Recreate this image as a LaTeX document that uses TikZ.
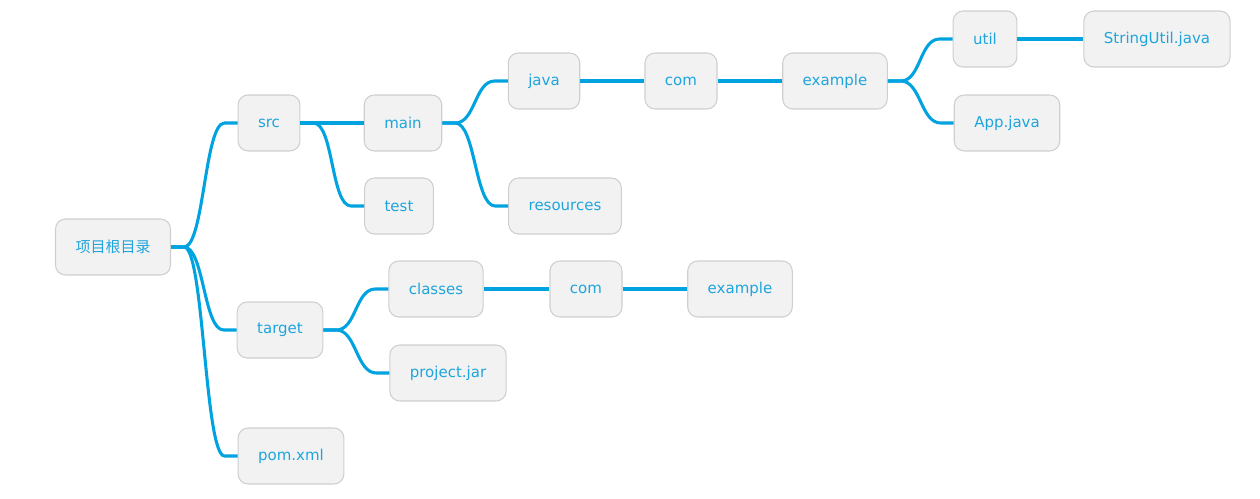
\documentclass[tikz,border=0pt]{standalone}
\usepackage{fontspec}
\setmainfont{DejaVu Sans}
\newfontfamily\cjk{Noto Sans CJK SC}
\usetikzlibrary{calc}

\definecolor{linkblue}{HTML}{00A3E0}
\definecolor{textblue}{HTML}{1FA5DC}
\definecolor{boxfill}{HTML}{F2F2F2}
\definecolor{boxline}{HTML}{CFCFCF}

\tikzset{
  folder/.style={draw=boxline,fill=boxfill,rounded corners=7.5pt,text=textblue,
    font=\fontsize{11.25}{13}\selectfont,minimum height=42pt,inner xsep=15pt,line width=0.8pt},
  link/.style={draw=linkblue,line width=2.3pt}
}

\begin{document}
\begin{tikzpicture}[x=0.75pt,y=-0.75pt]
  \useasboundingbox (0,0) rectangle (1260,499);

  % level 0 and 1
  \node[folder] (root) at (113,247) {\cjk 项目根目录};
  \node[folder] (src) at (269,123) {src};
  \node[folder] (target) at (280,330) {target};
  \node[folder] (pom) at (291,456) {pom.xml};

  % src branch
  \node[folder] (main) at (403,123) {main};
  \node[folder] (test) at (399,206) {test};
  \node[folder] (java) at (544,81) {java};
  \node[folder] (resources) at (565,206) {resources};
  \node[folder] (com) at (681,81) {com};
  \node[folder] (example) at (835,81) {example};
  \node[folder] (util) at (985,39) {util};
  \node[folder] (app) at (1007,123) {App.java};
  \node[folder] (strutil) at (1157,39) {StringUtil.java};

  % target branch
  \node[folder] (classes) at (436,289) {classes};
  \node[folder] (jar) at (448,373) {project.jar};
  \node[folder] (tcom) at (586,289) {com};
  \node[folder] (texample) at (740,289) {example};

  \foreach \a/\b in {root/src,root/target,root/pom,src/main,src/test,main/java,
      main/resources,java/com,com/example,example/util,example/app,util/strutil,
      target/classes,target/jar,classes/tcom,tcom/texample}
    \draw[link] (\a.east) -- ++(13,0) .. controls +(20,0) and +(-20,0)
      .. ($(\b.west)+(-13,0)$) -- (\b.west);
\end{tikzpicture}
\end{document}
